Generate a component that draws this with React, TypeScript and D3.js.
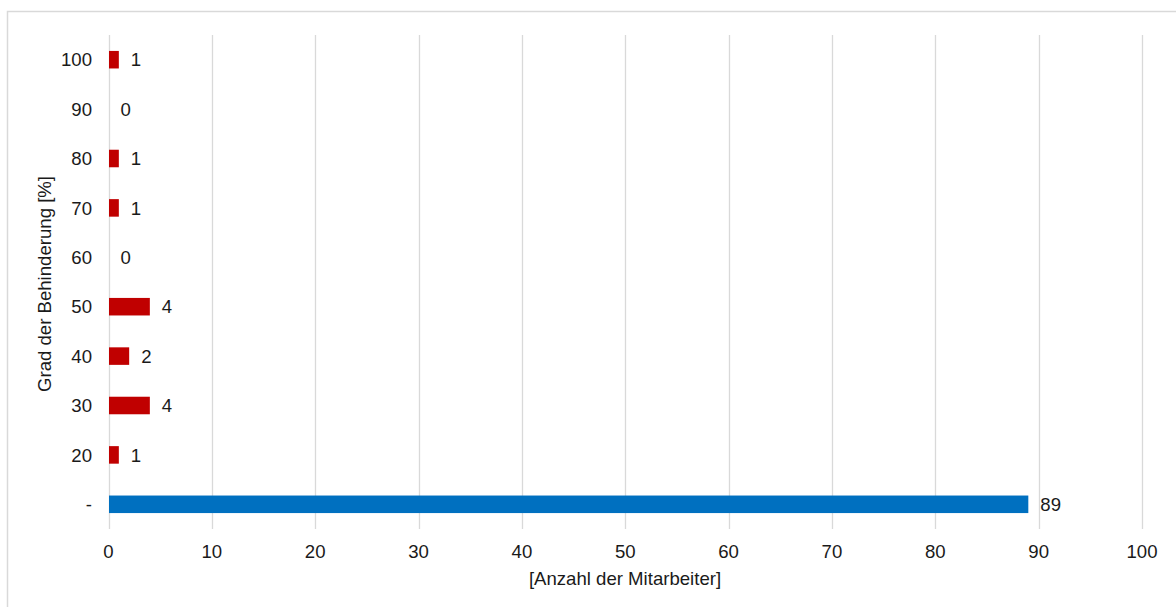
import React from "react";
import * as d3 from "d3";

const categories: string[] = ["100", "90", "80", "70", "60", "50", "40", "30", "20", "-"];
const values: number[] = [1, 0, 1, 1, 0, 4, 2, 4, 1, 89];
const barColors: string[] = ["#C00000", "#C00000", "#C00000", "#C00000", "#C00000", "#C00000", "#C00000", "#C00000", "#C00000", "#0070C0"];
const xTicks: number[] = [0, 10, 20, 30, 40, 50, 60, 70, 80, 90, 100];
const xTitle = "[Anzahl der Mitarbeiter]";
const yTitle = "Grad der Behinderung [%]";

const W = 1176;
const H = 607;
const left = 108.5;
const right = 1142;
const top = 35;
const bottom = 529;
const font = "'Liberation Sans', Arial, sans-serif";
const textColor = "#1a1a1a";
const fs = 18.6;

export default function App() {
  const x = d3.scaleLinear().domain([0, 100]).range([left, right]);
  const y = d3.scaleBand<string>().domain(categories).range([top, bottom]).paddingInner(0.645).paddingOuter(0.3225);

  return (
    <svg width={W} height={H} style={{ position: "absolute", left: 0, top: 0, background: "#fff" }}>
      <rect x={7.5} y={11.5} width={W + 10} height={H + 10} fill="#fff" stroke="#d9d9d9" strokeWidth={1.5} />
      {xTicks.map((t) => (
        <line key={"g" + t} x1={Math.round(x(t)) + 0.5} x2={Math.round(x(t)) + 0.5} y1={top} y2={bottom} stroke="#d9d9d9" strokeWidth={1.3} />
      ))}
      {categories.map((c, i) => {
        const yy = y(c)!;
        const bw = y.bandwidth();
        const xe = x(values[i]);
        return (
          <g key={"b" + c}>
            {values[i] > 0 && (
              <rect x={x(0) + 0.5} y={yy} width={xe - x(0) - 0.5} height={bw} fill={barColors[i]} />
            )}
            <text x={xe + 12} y={yy + bw / 2} dy="0.36em" fontSize={fs} fontFamily={font} fill={textColor}>
              {values[i]}
            </text>
            <text x={92} y={yy + bw / 2} dy="0.36em" textAnchor="end" fontSize={fs} fontFamily={font} fill={textColor}>
              {c}
            </text>
          </g>
        );
      })}
      {xTicks.map((t) => (
        <text key={"t" + t} x={x(t)} y={558} textAnchor="middle" fontSize={fs} fontFamily={font} fill={textColor}>
          {t}
        </text>
      ))}
      <text x={625} y={585} textAnchor="middle" fontSize={fs} fontFamily={font} fill={textColor}>
        {xTitle}
      </text>
      <text
        transform={`translate(51, ${284}) rotate(-90)`}
        textAnchor="middle"
        fontSize={fs}
        fontFamily={font}
        fill={textColor}
      >
        {yTitle}
      </text>
    </svg>
  );
}
